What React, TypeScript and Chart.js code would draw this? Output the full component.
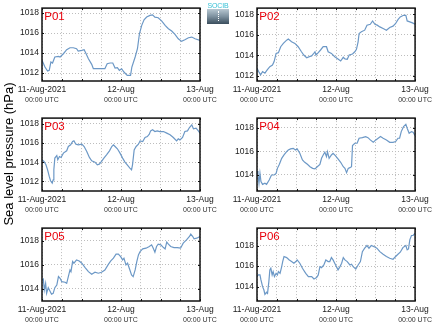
import React, { useEffect, useRef } from "react";
import { Chart, registerables } from "chart.js";

Chart.register(...registerables);

// ---- axis labels ----
const xGridHours = [0, 6, 12, 18, 24, 30, 36, 42, 48];
const dateLabelHours = [0, 24, 48];
const dateLabels = ["11-Aug-2021", "12-Aug", "13-Aug"];
const timeLabel = "00:00 UTC";
const yAxisTitle = "Sea level pressure (hPa)";

// ---- series (hours since 11-Aug-2021 00:00 UTC, pressure in hPa) ----
const p01Hours = [0,0.9,1.7,2.2,2.7,3.2,3.9,5.0,5.5,6.5,7.5,8.5,9.5,10.5,11.0,12.1,12.8,13.4,14.1,15.1,15.6,17.6,19.1,19.8,20.7,21.5,22.2,22.9,23.5,24.2,24.9,25.9,26.9,27.3,28.3,29.0,29.6,30.3,31.0,31.8,32.8,33.6,34.3,35.3,36.4,37.4,38.4,39.4,40.4,41.4,42.4,43.4,44.5,45.5,46.5,48];
const p01Values = [1013.27,1012.6,1012.2,1012.27,1013.1,1013.0,1013.6,1013.67,1013.6,1013.93,1014.33,1014.53,1014.53,1014.43,1014.2,1014.27,1014.33,1013.93,1013.43,1012.87,1012.43,1012.43,1012.43,1012.93,1013.0,1013.0,1012.5,1012.53,1012.27,1012.43,1012.1,1011.77,1011.77,1012.6,1013.6,1014.43,1015.93,1016.77,1017.33,1017.6,1017.77,1017.83,1017.6,1017.53,1017.2,1016.77,1016.43,1016.2,1015.87,1015.43,1015.17,1015.33,1015.53,1015.6,1015.43,1015.27];

const p02Hours = [0,0.5,1.1,1.7,2.4,3.1,3.9,4.7,5.2,5.8,6.5,7.2,8.0,9.0,9.5,10.5,11.5,12.5,13.5,14.2,15.1,15.9,16.6,17.1,17.6,17.9,18.6,19.3,20.1,21.1,21.6,22.6,23.6,24.6,25.4,26.2,26.7,27.4,28.0,29.0,29.7,30.2,30.7,31.0,31.7,32.7,33.4,34.4,35.1,35.8,36.5,37.3,38.3,39.3,40.3,41.3,42.1,42.8,43.5,44.5,45.2,45.6,46.4,47.2,48.0];
const p02Values = [1012.74,1012.42,1012.1,1012.42,1012.26,1012.58,1012.9,1013.06,1013.39,1014.19,1014.26,1014.84,1015.16,1015.48,1015.58,1015.32,1015.16,1014.84,1014.35,1014.03,1013.77,1013.87,1013.94,1014.13,1014.35,1014.03,1014.26,1014.52,1014.84,1014.84,1014.35,1014.19,1013.87,1013.65,1013.45,1013.81,1013.65,1013.61,1014.03,1014.13,1014.35,1014.58,1015.32,1016.13,1016.29,1016.45,1016.94,1017.03,1017.35,1017.03,1016.94,1016.77,1016.61,1016.45,1016.71,1016.84,1017.1,1017.48,1017.74,1017.9,1017.9,1017.35,1017.26,1017.16,1017.03];

const p03Hours = [0,0.6,1.2,1.7,2.2,2.6,3.1,3.4,3.6,3.9,4.5,4.8,5.3,5.8,6.5,7.5,8.0,8.7,9.3,9.7,10.3,11.0,12.1,12.8,13.6,14.4,15.1,16.1,16.8,17.4,18.1,18.8,19.6,20.5,21.2,21.7,22.2,22.9,23.7,24.5,25.2,25.9,26.7,27.2,27.5,28.0,28.6,29.3,29.8,30.6,31.3,32.0,32.6,33.0,33.6,34.3,35.0,35.8,36.9,37.9,38.9,39.9,40.9,41.4,41.9,42.7,43.4,44.2,44.8,45.5,46.0,46.8,47.5,48.0];
const p03Values = [1014.25,1014.08,1013.73,1013.21,1012.52,1012.07,1011.83,1012.17,1013.21,1014.43,1014.7,1014.25,1014.6,1014.5,1014.95,1015.19,1015.64,1015.81,1016.16,1016.23,1015.88,1015.81,1015.88,1015.64,1015.12,1014.5,1014.15,1014.01,1013.73,1013.8,1014.08,1014.43,1014.77,1015.19,1015.64,1015.81,1015.64,1015.4,1014.95,1014.43,1014.01,1013.73,1013.39,1013.21,1013.73,1015.29,1015.64,1015.88,1016.23,1016.16,1016.58,1016.68,1016.92,1017.27,1017.38,1017.2,1017.27,1017.2,1017.2,1017.03,1016.86,1016.58,1016.23,1016.44,1016.33,1016.58,1017.2,1017.27,1017.62,1017.9,1017.48,1017.55,1017.27,1017.03];

const p04Hours = [0,0.3,0.6,0.9,1.2,1.7,2.4,2.9,3.7,4.4,5.2,5.8,6.2,6.8,7.5,8.2,9.0,9.5,10.2,11.0,11.7,12.2,13.0,13.8,14.5,15.3,16.1,16.9,17.6,18.3,19.1,19.6,20.1,20.6,21.1,21.4,21.9,22.6,23.1,23.8,24.6,25.4,26.2,26.7,27.2,27.7,28.2,28.7,29.0,29.7,30.4,31.0,32.0,33.0,33.7,34.4,35.3,36.1,36.8,37.5,38.3,39.3,40.3,41.3,42.1,42.8,43.3,43.8,44.5,45.2,45.6,46.2,46.9,47.4,48.0];
const p04Values = [1014.34,1014.0,1013.3,1014.14,1013.44,1013.21,1013.3,1013.21,1013.58,1014.0,1014.0,1014.14,1014.56,1014.9,1015.41,1015.69,1015.97,1016.11,1016.2,1016.25,1016.11,1016.2,1015.83,1015.27,1015.07,1014.9,1014.7,1014.56,1014.51,1014.7,1014.9,1015.41,1015.69,1015.92,1015.55,1015.97,1015.41,1015.69,1015.83,1015.63,1015.35,1015.07,1014.7,1014.56,1014.2,1014.56,1014.62,1014.7,1016.48,1016.68,1016.68,1017.1,1017.15,1017.24,1017.15,1016.96,1016.76,1016.96,1017.1,1017.24,1017.1,1016.96,1016.76,1016.76,1016.82,1017.1,1017.1,1017.66,1018.08,1018.28,1017.94,1017.52,1017.66,1017.61,1017.32];

const p05Hours = [0,0.4,0.7,1.1,1.4,1.9,2.4,2.9,3.4,3.9,4.5,5.0,5.5,6.0,7.0,7.5,8.0,8.5,8.8,9.3,9.7,10.5,11.3,12.1,13.1,14.1,15.1,16.1,17.1,18.1,19.1,20.2,20.9,21.7,22.5,23.2,23.9,24.5,24.9,25.5,26.0,26.7,27.2,27.7,28.3,28.8,29.3,29.8,30.6,31.6,32.6,33.3,33.8,34.3,34.8,35.3,36.1,36.9,37.4,37.9,38.4,39.1,40.1,41.1,42.1,42.9,43.9,44.8,45.2,45.8,46.2,47.0,48.0];
const p05Values = [1014.75,1014.83,1013.92,1014.47,1013.64,1014.11,1013.83,1013.56,1013.64,1014.11,1014.33,1015.03,1014.89,1014.61,1014.56,1014.47,1015.03,1015.58,1015.44,1016.28,1016.14,1016.42,1016.33,1016.14,1015.78,1015.44,1015.22,1015.39,1015.31,1015.39,1015.58,1016.06,1016.33,1016.56,1016.89,1016.89,1016.69,1016.42,1016.56,1016.0,1016.14,1015.58,1015.17,1015.03,1015.58,1016.28,1016.83,1017.11,1017.33,1017.39,1017.53,1017.67,1017.39,1017.06,1017.53,1017.72,1017.67,1017.44,1017.33,1017.89,1017.72,1017.53,1017.44,1017.44,1017.39,1017.81,1018.08,1018.36,1018.56,1018.36,1018.17,1018.22,1018.36];

const p06Hours = [0,0.4,0.9,1.2,1.7,2.1,2.4,2.9,3.2,3.6,3.9,4.2,4.6,4.9,5.3,5.8,6.2,6.5,7.0,7.5,7.8,8.2,9.0,9.8,10.5,11.2,11.8,12.2,13.0,13.8,14.8,15.6,16.6,17.3,18.1,18.6,19.1,19.6,20.3,20.9,21.6,22.1,22.6,23.1,23.6,24.1,24.6,25.2,25.7,26.2,26.7,27.4,28.2,28.7,29.2,30.0,30.7,31.4,32.0,32.7,33.4,34.0,34.7,35.5,36.4,37.3,38.3,39.3,40.3,41.3,42.1,42.8,43.5,44.3,45.2,45.6,46.0,46.4,46.9,47.4,48.0];
const p06Values = [1014.98,1015.14,1015.14,1014.65,1014.0,1013.67,1013.25,1013.45,1013.35,1014.49,1015.63,1015.79,1015.14,1015.46,1014.98,1015.3,1015.14,1015.46,1015.3,1015.95,1016.44,1016.93,1016.83,1016.6,1016.44,1016.28,1016.44,1016.6,1016.28,1015.79,1015.3,1014.98,1014.98,1014.75,1014.88,1015.14,1015.95,1015.85,1016.11,1016.6,1016.44,1016.44,1016.83,1016.6,1016.28,1015.95,1015.63,1015.95,1016.28,1016.83,1016.6,1016.44,1016.11,1016.18,1015.95,1015.72,1016.11,1016.44,1017.41,1017.74,1018.0,1017.74,1018.0,1017.9,1017.74,1017.41,1017.15,1016.93,1016.76,1016.67,1016.93,1017.15,1017.35,1017.8,1018.0,1017.58,1017.67,1018.55,1018.98,1018.98,1019.2];

// ---- y tick labels per panel ----
const yTicksA = [1012, 1014, 1016, 1018];
const yTicksB = [1014, 1016, 1018];

// ---- panels (data + axis ranges) ----
const panels = [
  { name: "P01", hours: p01Hours, values: p01Values, yMin: 1011.2, yMax: 1018.5, yTicks: yTicksA },
  { name: "P02", hours: p02Hours, values: p02Values, yMin: 1011.5, yMax: 1018.6, yTicks: yTicksA },
  { name: "P03", hours: p03Hours, values: p03Values, yMin: 1011.0, yMax: 1018.6, yTicks: yTicksA },
  { name: "P04", hours: p04Hours, values: p04Values, yMin: 1012.65, yMax: 1018.8, yTicks: yTicksB },
  { name: "P05", hours: p05Hours, values: p05Values, yMin: 1013.0, yMax: 1019.06, yTicks: yTicksB },
  { name: "P06", hours: p06Hours, values: p06Values, yMin: 1012.6, yMax: 1019.7, yTicks: yTicksB },
];

// ---- layout (page pixels) ----
const columns = [
  { canvasLeft: 0, canvasWidth: 230, frameWidth: 158 },
  { canvasLeft: 215, canvasWidth: 219, frameWidth: 159 },
];
const rowFrameTops = [8, 118, 228];
const FRAME_H = 73;
const Y_AXIS_W = 42;
const TOP_PAD = 8;
const X1_H = 13;
const X2_H = 14;

const FONT = '"Liberation Sans", Arial, Helvetica, sans-serif';
const LINE_COLOR = "rgb(108,152,198)";
const GRID_COLOR = "#bdbdbd";

const framePlugin = {
  id: "frame",
  afterDraw(chart: any, _args: any, opts: any) {
    const { ctx, chartArea: a, scales } = chart;
    ctx.save();
    ctx.strokeStyle = "#111";
    ctx.lineWidth = 1;
    const tl = 2;
    ctx.beginPath();
    for (const h of xGridHours) {
      const px = Math.round(scales.x.getPixelForValue(h)) + 0.5;
      ctx.moveTo(px, a.bottom);
      ctx.lineTo(px, a.bottom - tl);
      ctx.moveTo(px, a.top);
      ctx.lineTo(px, a.top + tl);
    }
    for (const v of opts.yTicks as number[]) {
      const py = Math.round(scales.y.getPixelForValue(v)) + 0.5;
      ctx.moveTo(a.left, py);
      ctx.lineTo(a.left + tl, py);
      ctx.moveTo(a.right, py);
      ctx.lineTo(a.right - tl, py);
    }
    ctx.stroke();
    ctx.lineWidth = 1.5;
    ctx.strokeRect(a.left, a.top, a.right - a.left, a.bottom - a.top);
    ctx.fillStyle = "#e8000b";
    ctx.font = `11.5px ${FONT}`;
    ctx.textBaseline = "alphabetic";
    ctx.textAlign = "left";
    ctx.fillText(opts.label, a.left + 2.3, a.top + 11.5);
    ctx.restore();
  },
};

function Panel({ panel, col, row }: { panel: any; col: number; row: number }) {
  const ref = useRef<HTMLCanvasElement | null>(null);
  const c = columns[col];
  const canvasTop = rowFrameTops[row] - TOP_PAD;
  const canvasH = TOP_PAD + FRAME_H + X1_H + X2_H;

  useEffect(() => {
    if (!ref.current) return;
    const setXTicks = (s: any) => {
      s.ticks = xGridHours.map((v) => ({ value: v }));
    };
    const chart = new Chart(ref.current, {
      type: "line",
      data: {
        datasets: [
          {
            data: panel.hours.map((h: number, i: number) => ({ x: h, y: panel.values[i] })),
            borderColor: LINE_COLOR,
            borderWidth: 1.2,
            pointRadius: 0,
            tension: 0,
            fill: false,
          },
        ],
      },
      options: {
        responsive: false,
        animation: false,
        events: [],
        layout: {
          padding: { top: TOP_PAD, left: 0, bottom: 0, right: c.canvasWidth - Y_AXIS_W - c.frameWidth },
        },
        plugins: {
          legend: { display: false },
          tooltip: { enabled: false },
          frame: { label: panel.name, yTicks: panel.yTicks },
        } as any,
        scales: {
          x: {
            type: "linear",
            position: "bottom",
            min: 0,
            max: 48,
            afterBuildTicks: setXTicks,
            afterFit: (s: any) => { s.height = X1_H; },
            ticks: {
              autoSkip: false,
              maxRotation: 0,
              padding: 3.5,
              color: "#1a1a1a",
              font: { size: 8.5, family: FONT },
              callback: (v: any) => {
                const i = dateLabelHours.indexOf(Number(v));
                return i >= 0 ? dateLabels[i] : "";
              },
            },
            grid: { color: GRID_COLOR, lineWidth: 1, drawTicks: false, borderDash: [1, 2] } as any,
            border: { display: false, dash: [1, 2] },
          },
          x2: {
            type: "linear",
            position: "bottom",
            min: 0,
            max: 48,
            afterBuildTicks: setXTicks,
            afterFit: (s: any) => { s.height = X2_H; },
            ticks: {
              autoSkip: false,
              maxRotation: 0,
              padding: 2,
              color: "#333",
              font: { size: 7, family: FONT },
              callback: (v: any) => (dateLabelHours.indexOf(Number(v)) >= 0 ? timeLabel : ""),
            },
            grid: { display: false, drawTicks: false },
            border: { display: false },
          },
          y: {
            type: "linear",
            position: "left",
            min: panel.yMin,
            max: panel.yMax,
            afterBuildTicks: (s: any) => {
              s.ticks = panel.yTicks.map((v: number) => ({ value: v }));
            },
            afterFit: (s: any) => { s.width = Y_AXIS_W; },
            ticks: {
              padding: 3,
              color: "#1a1a1a",
              font: { size: 8.5, family: FONT },
              callback: (v: any) => String(v),
            },
            grid: { color: GRID_COLOR, lineWidth: 1, drawTicks: false, borderDash: [1, 2] } as any,
            border: { display: false, dash: [1, 2] },
          },
        } as any,
      },
      plugins: [framePlugin],
    });
    return () => chart.destroy();
  }, []);

  return (
    <canvas
      ref={ref}
      width={c.canvasWidth}
      height={canvasH}
      style={{ position: "absolute", left: c.canvasLeft, top: canvasTop, width: c.canvasWidth, height: canvasH }}
    />
  );
}

export default function App() {
  return (
    <div
      style={{
        position: "absolute",
        left: 0,
        top: 0,
        width: 434,
        height: 327,
        overflow: "hidden",
        background: "#fff",
        fontFamily: FONT,
      }}
    >
      {panels.map((p, i) => (
        <Panel key={p.name} panel={p} col={i % 2} row={Math.floor(i / 2)} />
      ))}
      <div
        style={{
          position: "absolute",
          left: 9 - 80,
          top: 154 - 8,
          width: 160,
          height: 16,
          transform: "rotate(-90deg)",
          transformOrigin: "50% 50%",
          textAlign: "center",
          whiteSpace: "nowrap",
          fontSize: 13,
          fontWeight: 400,
          lineHeight: "16px",
          color: "#000",
        }}
      >
        {yAxisTitle}
      </div>
      <div style={{ position: "absolute", left: 207, top: 2, width: 22, height: 22 }}>
        <div
          style={{
            position: "absolute",
            left: 0,
            top: 0,
            width: 22,
            height: 7,
            fontSize: 7,
            lineHeight: "7px",
            color: "#38c0d6",
            textAlign: "center",
            letterSpacing: -0.2,
          }}
        >
          SOCIB
        </div>
        <div
          style={{
            position: "absolute",
            left: 0,
            top: 7,
            width: 22,
            height: 15,
            background: "linear-gradient(#b8c8d2, #7d919f 50%, #3a4d5c)",
          }}
        />
        <div
          style={{
            position: "absolute",
            left: 11,
            top: 9,
            width: 0,
            height: 10,
            borderLeft: "1px dotted #fff",
          }}
        />
      </div>
    </div>
  );
}
